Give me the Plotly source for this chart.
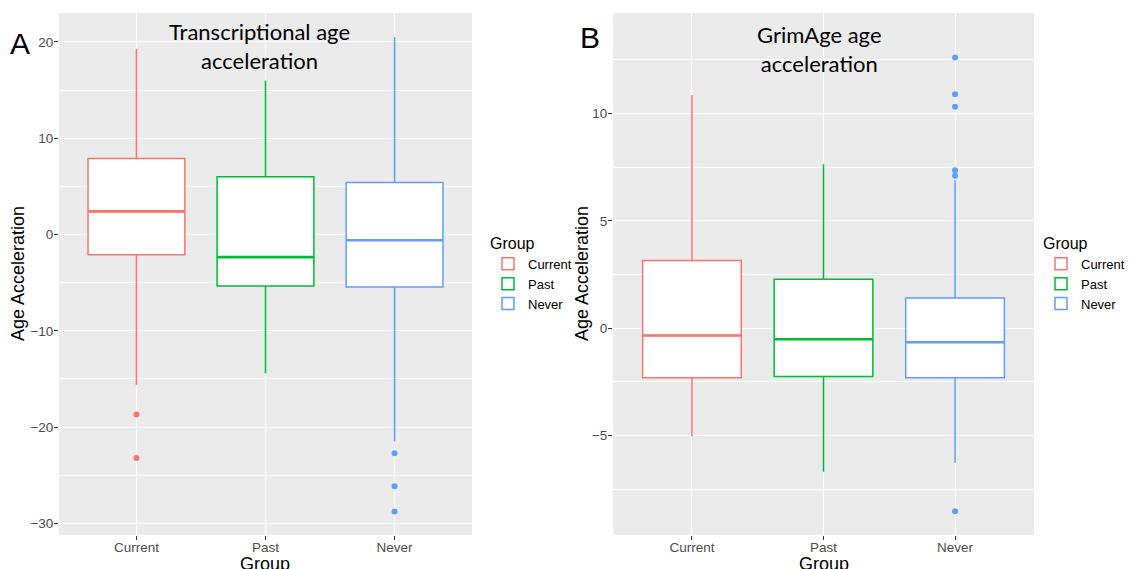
import plotly.graph_objects as go

groups = ["Current", "Past", "Never"]
colors = ["#F8766D", "#00BA38", "#619CFF"]

# Panel A: Transcriptional age acceleration
a_low = [-15.6, -14.4, -21.5]
a_q1 = [-2.1, -5.35, -5.45]
a_med = [2.4, -2.35, -0.6]
a_q3 = [7.9, 6.0, 5.4]
a_up = [19.3, 16.0, 20.5]
a_out = [[-18.7, -23.2], [], [-22.7, -26.15, -28.75]]

# Panel B: GrimAge age acceleration
b_low = [-5.03, -6.68, -6.26]
b_q1 = [-2.3, -2.24, -2.3]
b_med = [-0.34, -0.51, -0.65]
b_q3 = [3.15, 2.28, 1.41]
b_up = [10.84, 7.63, 6.89]
b_out = [[], [], [12.6, 10.89, 10.31, 7.35, 7.1, -8.52]]

fig = go.Figure()

def add_panel(xa, ya, low, q1, med, q3, up, outs, legend):
    for i, g in enumerate(groups):
        xi = i + 1
        fig.add_trace(go.Box(
            x=[xi], q1=[q1[i]], median=[med[i]], q3=[q3[i]],
            lowerfence=[low[i]], upperfence=[up[i]],
            width=0.75, whiskerwidth=0, fillcolor="white",
            line=dict(color=colors[i], width=1.5), boxpoints=False,
            name=g, legend=legend, xaxis=xa, yaxis=ya, hoverinfo="skip"))
        fig.add_trace(go.Scatter(
            x=[xi - 0.375, xi + 0.375], y=[med[i], med[i]], mode="lines",
            line=dict(color=colors[i], width=2.6), showlegend=False,
            xaxis=xa, yaxis=ya, hoverinfo="skip"))
        if outs[i]:
            fig.add_trace(go.Scatter(
                x=[xi] * len(outs[i]), y=outs[i], mode="markers",
                marker=dict(color=colors[i], size=6), showlegend=False,
                xaxis=xa, yaxis=ya, hoverinfo="skip"))

add_panel("x", "y", a_low, a_q1, a_med, a_q3, a_up, a_out, "legend")
add_panel("x2", "y2", b_low, b_q1, b_med, b_q3, b_up, b_out, "legend2")

tickfont = dict(family="Liberation Sans", size=13.5, color="#4D4D4D")
xcommon = dict(range=[0.4, 3.6], tickvals=[1, 2, 3], ticktext=groups,
               showgrid=True, gridcolor="white", gridwidth=1.1, zeroline=False,
               ticks="outside", ticklen=4, tickcolor="#333333", tickfont=tickfont,
               ticklabelstandoff=-4, showline=False, automargin=False)
ycommon = dict(showgrid=True, gridcolor="white", gridwidth=1.1, zeroline=False,
               ticks="outside", ticklen=4, tickcolor="#333333", tickfont=tickfont,
               ticklabelstandoff=-2, showline=False, automargin=False)

W, H = 1130, 569
ydom = [1 - 535 / H, 1 - 13 / H]

legfont = dict(family="Liberation Sans", size=13, color="black")
legtitle = dict(text="Group", font=dict(family="Liberation Sans", size=16, color="black"))

fig.update_layout(
    width=W, height=H, autosize=False, margin=dict(l=0, r=0, t=0, b=0),
    paper_bgcolor="white", plot_bgcolor="#EBEBEB",
    xaxis=dict(domain=[59 / W, 472 / W], anchor="y", **xcommon),
    yaxis=dict(domain=ydom, anchor="x", range=[-31.2, 23.0],
               tickvals=[-30, -20, -10, 0, 10, 20],
               ticktext=["\u221230", "\u221220", "\u221210", "0", "10", "20"],
               minor=dict(dtick=5, tick0=0, showgrid=True, gridcolor="white", gridwidth=0.5, ticks=""),
               **ycommon),
    xaxis2=dict(domain=[613 / W, 1034 / W], anchor="y2", **xcommon),
    yaxis2=dict(domain=ydom, anchor="x2", range=[-9.62, 14.67],
                tickvals=[-5, 0, 5, 10],
                ticktext=["\u22125", "0", "5", "10"],
                minor=dict(dtick=2.5, tick0=0, showgrid=True, gridcolor="white", gridwidth=0.5, ticks=""),
                **ycommon),
    legend=dict(x=488 / W, y=1 - 228 / H, xanchor="left", yanchor="top",
                title=legtitle, font=legfont, bgcolor="rgba(0,0,0,0)", tracegroupgap=0),
    legend2=dict(x=1.0, y=1 - 228 / H, xanchor="right", yanchor="top",
                 title=legtitle, font=legfont, bgcolor="rgba(0,0,0,0)", tracegroupgap=0),
    showlegend=True,
)

def txt(text, x, y, size, family="Liberation Sans", angle=0):
    return dict(text=text, x=x / W, y=1 - y / H, xref="paper", yref="paper",
                xanchor="center", yanchor="middle", showarrow=False, textangle=angle,
                font=dict(family=family, size=size, color="black"))

ann = [
    txt("A", 20, 43, 30),
    txt("B", 590, 38, 30),
    txt("Transcriptional age<br>acceleration", 259, 46, 22, "Lato"),
    txt("GrimAge age<br>acceleration", 819, 49, 22, "Lato"),
    txt("Age Acceleration", 18, 274, 18, angle=-90),
    txt("Age Acceleration", 582, 274, 18, angle=-90),
    txt("Group", 265, 564, 18),
    txt("Group", 824, 564, 18),
]
fig.update_layout(annotations=ann)

post = "document.body.style.margin='0';document.body.style.overflow='hidden';"
fig.write_html("out.html", config={"displayModeBar": False}, post_script=post)
